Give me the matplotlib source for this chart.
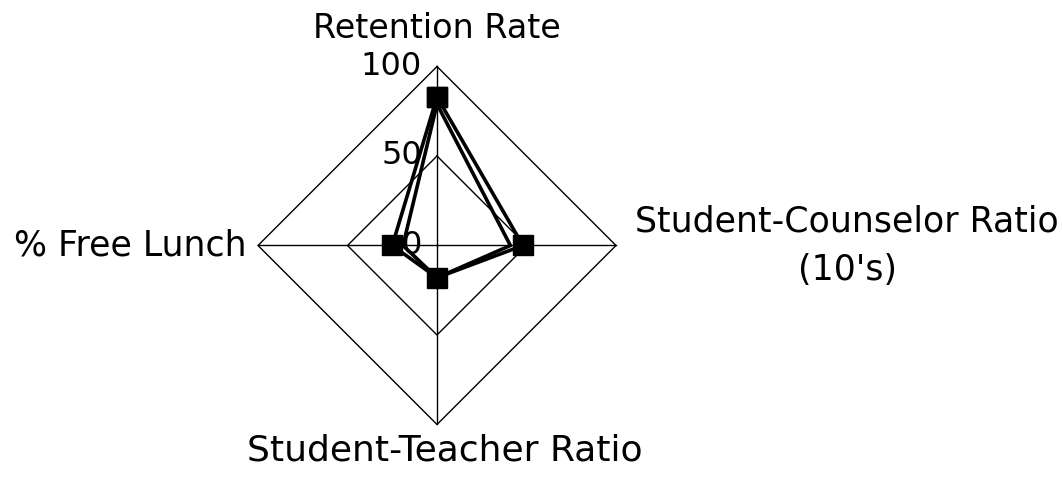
import numpy as np
import matplotlib
matplotlib.use("Agg")
import matplotlib.pyplot as plt

categories = ["Retention Rate", "Student-Counselor Ratio\n(10's)", "Student-Teacher Ratio", "% Free Lunch"]
series_a = [83, 48, 18, 25]
series_b = [79, 41, 18, 19]
tick_values = [0, 50, 100]
tick_labels = ["0", "50", "100"]

plt.rcParams['font.family'] = ['DejaVu Sans']

fig = plt.figure(figsize=(10.62, 4.79), dpi=100)
ax = fig.add_axes([0.24294, 0.11378, 0.33710, 0.74739], projection='polar')
ax.set_theta_zero_location('N')
ax.set_theta_direction(-1)
ax.set_ylim(0, 100)
ax.grid(False)
ax.spines['polar'].set_visible(False)
ax.set_xticks([])
ax.set_yticks([])
ax.patch.set_alpha(0)

n = len(categories)
thetas = [2 * np.pi * i / n for i in range(n)]
closed_t = thetas + [thetas[0]]

# diamond gridlines
for v in tick_values[1:]:
    ax.plot(closed_t, [v] * (n + 1), color='black', lw=1.0, clip_on=False, zorder=1)
# spokes
for t in thetas:
    ax.plot([t, t], [0, tick_values[-1]], color='black', lw=1.0, clip_on=False, zorder=1)

# series
ax.plot(closed_t, series_b + [series_b[0]], color='black', lw=2.6, clip_on=False, zorder=3)
ax.plot(closed_t, series_a + [series_a[0]], color='black', lw=2.6, marker='s',
        markersize=14, clip_on=False, zorder=4)

# value labels along the top axis
for v, lab in zip(tick_values, tick_labels):
    ax.annotate(lab, xy=(0, v), xytext=(-15, 0), textcoords='offset pixels',
                ha='right', va='center', fontsize=23, zorder=5)

# category labels
offsets = [((0, 38), 'center', 'center', 24),
           ((231, 0), 'center', 'center', 25),
           ((8, -26), 'center', 'center', 26),
           ((-11, 0), 'right', 'center', 25)]
for t, lab, (off, ha, va, fs) in zip(thetas, categories, offsets):
    ax.annotate(lab, xy=(t, 100), xytext=off, textcoords='offset pixels',
                ha=ha, va=va, fontsize=fs, multialignment='center',
                linespacing=1.55, annotation_clip=False)

fig.savefig('out.png', dpi=100)
